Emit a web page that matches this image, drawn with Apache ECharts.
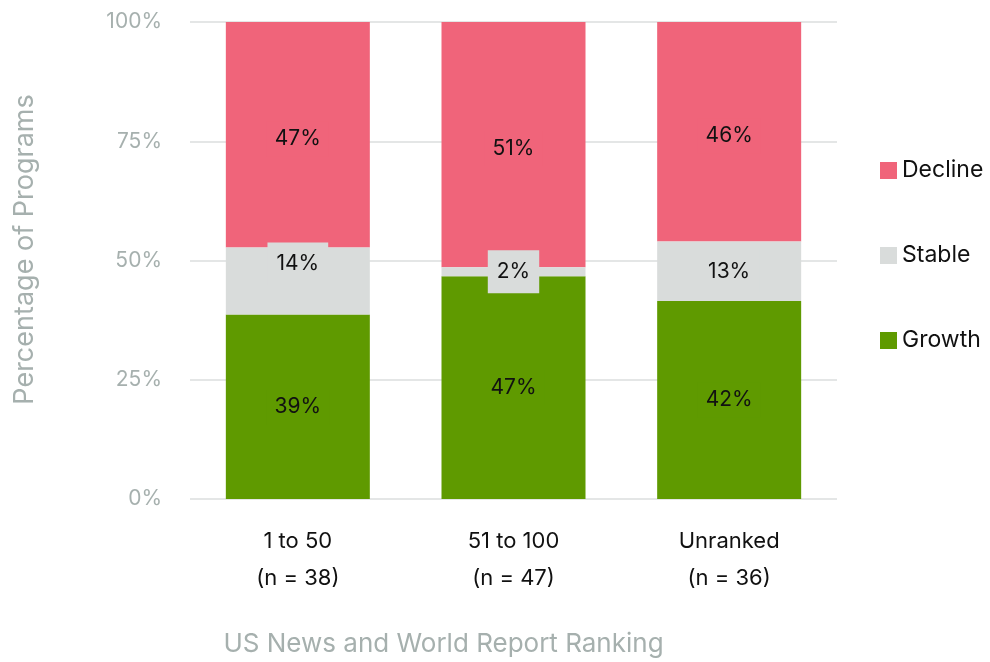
<!DOCTYPE html>
<html>
<head>
<meta charset="utf-8">
<script src="https://cdn.jsdelivr.net/npm/echarts@6/dist/echarts.min.js"></script>
<style>
html, body { margin: 0; padding: 0; background: #fff; }
#main { width: 990px; height: 662px; }
</style>
</head>
<body>
<div id="main"></div>
<script>
// ranking groups, shares of programs in percent (labels show rounded values)
var categories = ['1 to 50\n(n = 38)', '51 to 100\n(n = 47)', 'Unranked\n(n = 36)']
var growth = [38.7, 46.7, 41.5]
var stable = [14.0, 1.9, 12.5]
var decline = [47.3, 51.4, 46.0]
var yTicks = [0, 25, 50, 75, 100]

var font = 'Inter'
var grey = '#a6b0ae'

function labelOf(bg, pad) {
    return {
        show: true,
        position: 'inside',
        formatter: function (p) { return Math.round(p.value) + '%' },
        color: '#111',
        fontFamily: font,
        fontSize: 21,
        backgroundColor: bg,
        padding: pad
    }
}

// the first stable label sits a little above its segment centre
var stableData = stable.map(function (v, i) {
    return i === 0 ? { value: v, label: { offset: [0, -17] } } : v
})

var myChart = echarts.init(document.getElementById('main'))
myChart.setOption({
    animation: false,
    textStyle: { fontFamily: font },
    legend: {
        orient: 'vertical',
        left: 875,
        top: 154,
        itemGap: 62,
        itemWidth: 17,
        itemHeight: 17,
        icon: 'rect',
        data: ['Decline', 'Stable', 'Growth'],
        textStyle: { fontFamily: font, fontSize: 23, color: '#111' }
    },
    grid: {
        left: 190,
        right: 153,
        top: 22,
        bottom: 162
    },
    xAxis: {
        type: 'category',
        data: categories,
        name: 'US News and World Report Ranking',
        nameLocation: 'middle',
        nameGap: 132,
        nameTextStyle: { fontFamily: font, fontSize: 26, color: grey, padding: [0, 140, 0, 0] },
        axisLine: { show: false },
        axisTick: { show: false },
        axisLabel: {
            margin: 24,
            fontFamily: font,
            fontSize: 22,
            lineHeight: 37,
            color: '#111'
        }
    },
    yAxis: {
        type: 'value',
        min: 0,
        max: 100,
        interval: 25,
        name: 'Percentage of Programs',
        nameLocation: 'middle',
        nameGap: 152,
        nameTextStyle: { fontFamily: font, fontSize: 27, color: grey, padding: [0, 0, 0, 22] },
        axisLabel: {
            margin: 28,
            fontFamily: font,
            fontSize: 21,
            color: grey,
            formatter: function (v) { return yTicks.indexOf(v) >= 0 ? v + '%' : '' }
        },
        splitLine: { lineStyle: { color: '#e4e6e6', width: 2 } }
    },
    series: [
        {
            name: 'Growth', type: 'bar', stack: 'all', barWidth: 144,
            itemStyle: { color: '#5f9a00' },
            label: labelOf('#5f9a00', [8, 8, 6, 8]),
            data: growth
        },
        {
            name: 'Stable', type: 'bar', stack: 'all', barWidth: 144,
            itemStyle: { color: '#d9dcdb' },
            label: labelOf('#d9dcdb', [12, 9, 10, 9]),
            z: 3,
            data: stableData
        },
        {
            name: 'Decline', type: 'bar', stack: 'all', barWidth: 144,
            itemStyle: { color: '#f0647a' },
            label: Object.assign(labelOf('#f0647a', [8, 8, 6, 8]), { offset: [0, 4] }),
            data: decline
        }
    ]
})
</script>
</body>
</html>
